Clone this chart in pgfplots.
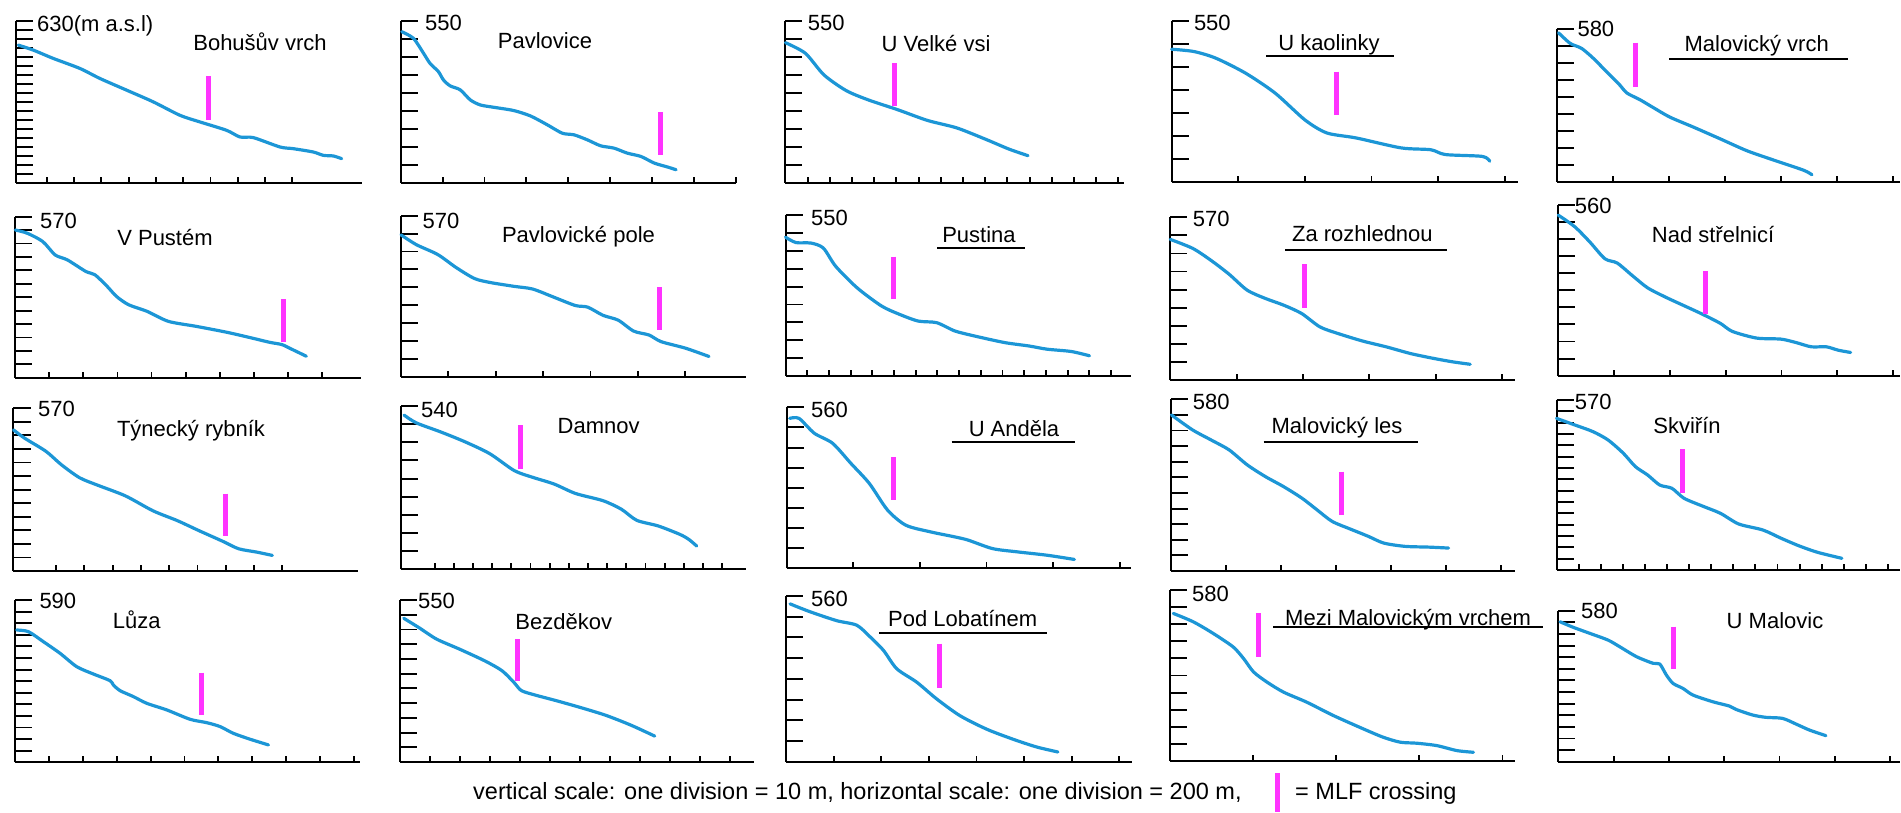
\documentclass[border=0pt]{standalone}
\usepackage{fontspec}
\setmainfont{Liberation Sans}
\usepackage{pgfplots}
\pgfplotsset{compat=1.18}
\definecolor{profc}{RGB}{28,150,214}
\definecolor{mlfc}{RGB}{255,51,255}
\newcommand{\tf}{\fontsize{22}{24}\selectfont}
\newcommand{\cf}{\fontsize{23.5}{25}\selectfont}
\pgfplotsset{
  panel/.style={scale only axis, anchor=south west, axis lines=left,
    axis line style={-, line width=2pt, black}, tick align=inside,
    xticklabel=\empty, yticklabel=\empty,
    xtick style={line width=1.9pt, black, /pgfplots/major tick length=6pt},
    ytick style={line width=1.9pt, black, /pgfplots/major tick length=17pt},
    clip=false, enlargelimits=false},
  pr/.style={color=profc, line width=3.2pt, line join=round, line cap=round, mark=none, smooth, tension=0.45},
  ml/.style={color=mlfc, line width=5pt, mark=none},
}
\begin{document}
\begin{tikzpicture}
\useasboundingbox (0pt,0pt) rectangle (1901pt,-812pt);
% ---------------- Row 1
\begin{axis}[panel, at={(16pt,-182.7pt)}, width=346pt, height=162pt,
  xmin=-25, xmax=2510, ymin=450, ymax=630, xtick={200,400,...,2000}, ytick={460,470,...,630}]
\addplot[pr] coordinates {(-8,602.9)(102,597.3)(248,588.1)(444,576.9)(590,565.8)(786,552.8)(981,539.8)(1176,524.9)(1323,517.5)(1518,508.2)(1616,500.8)(1714,500.1)(1909,489.7)(2007,487.8)(2153,484.1)(2227,480.4)(2300,479.7)(2361,476.7)};
\addplot[ml] coordinates {(1384,568.4)(1384,519.4)};
\end{axis}
\begin{axis}[panel, at={(400.7pt,-182.7pt)}, width=335.3pt, height=162pt,
  xmin=0, xmax=1600, ymin=460, ymax=550, xtick={200,400,...,1600}, ytick={470,480,...,550}]
\addplot[pr] coordinates {(5,543.9)(61,540.2)(109,531.9)(140,526.3)(180,521.7)(204,517.1)(236,513.8)(284,511.6)(332,506)(380,503.2)(444,501.9)(539,500.1)(619,497.1)(699,492.2)(771,487.5)(827,486.6)(891,483.8)(954,480.5)(1018,479.2)(1082,476.4)(1146,474.6)(1210,470.9)(1274,468.7)(1314,467.2)};
\addplot[ml] coordinates {(1239,499.2)(1239,475.2)};
\end{axis}
\begin{axis}[panel, at={(785.4pt,-182.7pt)}, width=338.1pt, height=162pt,
  xmin=0, xmax=3046, ymin=460, ymax=550, xtick={200,400,...,3000}, ytick={470,480,...,550}]
\addplot[pr] coordinates {(0,537.8)(180,531.9)(347,519.9)(547,511.2)(747,506)(1014,500.5)(1280,494.6)(1546,490.4)(1813,483.9)(2013,478.7)(2186,475)};
\addplot[ml] coordinates {(980,526.4)(980,502.7)};
\end{axis}
\begin{axis}[panel, at={(1171.6pt,-181.7pt)}, width=346.4pt, height=161pt,
  xmin=0, xmax=1040, ymin=480, ymax=550, xtick={200,400,...,1000}, ytick={490,500,...,550}]
\addplot[pr] coordinates {(0,537.6)(67,536.6)(133,533.7)(222,527.2)(311,518.5)(400,506.9)(466,501.2)(555,499)(689,494.7)(778,493.9)(822,491.8)(933,491)(955,488.9)};
\addplot[ml] coordinates {(496,527.9)(496,509.1)};
\end{axis}
\begin{axis}[panel, at={(1556.7pt,-181.7pt)}, width=343.3pt, height=152.4pt,
  xmin=0, xmax=1224, ymin=490, ymax=580, xtick={200,400,...,1200}, ytick={500,510,...,580}]
\addplot[pr] coordinates {(6,578)(48,571.7)(89,568.7)(131,562.8)(178,554.9)(226,546.9)(250,542.4)(297,538.4)(345,533.7)(404,528.1)(488,522.2)(583,515.3)(678,508.3)(773,502.8)(880,496.8)(910,494.1)};
\addplot[ml] coordinates {(282,572.1)(282,545.9)};
\end{axis}
% ---------------- Row 2
\begin{axis}[panel, at={(15.3pt,-377.7pt)}, width=345.7pt, height=161pt,
  xmin=0, xmax=2030, ymin=450, ymax=570, xtick={200,400,...,1800}, ytick={460,470,...,570}]
\addplot[pr] coordinates {(0,560.1)(72,557.6)(162,551.4)(234,541.5)(306,537.8)(414,529.2)(468,526.7)(540,518)(594,510.6)(665,504.4)(773,499.5)(899,492)(1061,488.3)(1241,483.9)(1385,479.7)(1493,476.4)(1565,474.7)(1619,471.5)(1709,466)};
\addplot[ml] coordinates {(1575,508.6)(1575,476.4)};
\end{axis}
\begin{axis}[panel, at={(401pt,-376.7pt)}, width=344.7pt, height=161pt,
  xmin=0, xmax=1455, ymin=480, ymax=570, xtick={200,400,...,1200}, ytick={490,500,...,570}]
\addplot[pr] coordinates {(0,559.3)(65,553.8)(155,548.3)(233,541)(310,534.9)(375,532.7)(478,530.5)(556,529)(646,524.4)(736,519.8)(788,518.9)(853,514.3)(917,511.6)(982,505.5)(1047,503.3)(1098,499.6)(1202,495.9)(1300,491.3)};
\addplot[ml] coordinates {(1093,529.9)(1093,506)};
\end{axis}
\begin{axis}[panel, at={(785.5pt,-376pt)}, width=345.2pt, height=161pt,
  xmin=0, xmax=3182, ymin=460, ymax=550, xtick={200,400,...,3000}, ytick={470,480,...,550}]
\addplot[pr] coordinates {(0,537.6)(96,534.6)(237,534.3)(349,531.5)(463,521.3)(660,509.3)(886,499.1)(1054,494.4)(1224,490.7)(1394,489.8)(1560,485.2)(1740,482.4)(2019,478.7)(2243,476.8)(2410,475)(2634,473.7)(2802,471.3)};
\addplot[ml] coordinates {(998,526.8)(998,503.2)};
\end{axis}
\begin{axis}[panel, at={(1170.2pt,-380pt)}, width=345.1pt, height=162.7pt,
  xmin=0, xmax=1040, ymin=480, ymax=570, xtick={200,400,...,1000}, ytick={490,500,...,570}]
\addplot[pr] coordinates {(0,557.8)(68,552.8)(122,546.3)(177,538.6)(232,529.7)(287,525.1)(342,521.4)(396,516.8)(451,509.4)(506,505.7)(579,501.6)(652,498.3)(725,494.6)(798,491.8)(853,490)(904,488.7)};
\addplot[ml] coordinates {(404,544.1)(404,520.1)};
\end{axis}
\begin{axis}[panel, at={(1558.3pt,-375.7pt)}, width=341.7pt, height=171pt,
  xmin=0, xmax=1225, ymin=460, ymax=560, xtick={200,400,...,1200}, ytick={470,480,...,560}]
\addplot[pr] coordinates {(0,553.9)(59,547.1)(113,538.2)(167,528.4)(211,525.9)(265,518.6)(320,511.4)(385,505.9)(450,501)(515,496.1)(581,490.6)(624,485.9)(711,482)(798,481.4)(852,479.4)(907,476.9)(961,476.9)(1004,474.9)(1048,473.6)};
\addplot[ml] coordinates {(526,521.2)(526,496.1)};
\end{axis}
% ---------------- Row 3
\begin{axis}[panel, at={(13.5pt,-571pt)}, width=344.6pt, height=162.7pt,
  xmin=-100, xmax=2335, ymin=450, ymax=570, xtick={200,400,...,1800}, ytick={460,470,...,570}]
\addplot[pr] coordinates {(-100,554.1)(-22,548)(129,538.3)(237,528.5)(367,518.8)(497,513.2)(691,505.4)(886,494.4)(1059,487.1)(1210,479.8)(1383,471.7)(1491,466.4)(1621,463.9)(1729,461.5)};
\addplot[ml] coordinates {(1396,507.1)(1396,475.6)};
\end{axis}
\begin{axis}[panel, at={(401pt,-569.3pt)}, width=344.7pt, height=163.3pt,
  xmin=-151, xmax=3446, ymin=450, ymax=540, xtick={200,400,...,3200}, ytick={460,470,...,540}]
\addplot[pr] coordinates {(-119,535)(9,530.7)(264,525.7)(520,520.2)(776,513.7)(1031,504.4)(1223,500.7)(1447,497)(1670,491.8)(1958,487.8)(2149,483.1)(2309,477)(2533,473.9)(2757,469.3)(2852,466.5)(2935,462.8)};
\addplot[ml] coordinates {(1095,529.4)(1095,505.4)};
\end{axis}
\begin{axis}[panel, at={(786.7pt,-568.3pt)}, width=344pt, height=161pt,
  xmin=0, xmax=1033, ymin=480, ymax=560, xtick={200,400,...,1000}, ytick={490,500,...,560}]
\addplot[pr] coordinates {(9,554.5)(37,554.5)(83,547.1)(138,542.1)(193,532.1)(248,522.2)(303,508.9)(358,501.4)(432,498.1)(505,495.6)(545,494)(618,489.8)(691,488.2)(782,486.5)(864,484.4)};
\addplot[ml] coordinates {(322,535.1)(322,513.9)};
\end{axis}
\begin{axis}[panel, at={(1171.4pt,-571pt)}, width=343.9pt, height=171.7pt,
  xmin=0, xmax=1252, ymin=470, ymax=580, xtick={200,400,...,1200}, ytick={480,490,...,580}]
\addplot[pr] coordinates {(0,570)(77,560.4)(144,554)(210,547.6)(276,538)(342,530.5)(408,524.1)(475,516.7)(530,509.2)(585,501.8)(651,496.9)(717,492.2)(773,487.9)(850,485.8)(938,485.3)(1009,484.7)};
\addplot[ml] coordinates {(618,533.7)(618,505.6)};
\end{axis}
\begin{axis}[panel, at={(1556.5pt,-570pt)}, width=343.5pt, height=170pt,
  xmin=0, xmax=3109, ymin=420, ymax=570, xtick={200,400,...,3000}, ytick={430,440,...,570}]
\addplot[pr] coordinates {(0,553.8)(165,548)(330,542.1)(467,534.7)(605,523)(714,511.2)(824,503.9)(934,495)(1044,492.1)(1154,483.3)(1319,476.5)(1484,470)(1649,460.6)(1868,455.3)(2033,448)(2198,441.2)(2363,435.6)(2583,430.3)};
\addplot[ml] coordinates {(1143,526.5)(1143,488.3)};
\end{axis}
% ---------------- Row 4
\begin{axis}[panel, at={(15pt,-762.3pt)}, width=345pt, height=162.3pt,
  xmin=0, xmax=2035, ymin=450, ymax=590, xtick={200,400,...,2000}, ytick={460,470,...,590}]
\addplot[pr] coordinates {(10,564.1)(79,562.7)(167,554.1)(266,544)(364,532.5)(462,526.2)(561,520.4)(580,516.7)(620,511.8)(698,506.7)(777,500.9)(895,495.2)(1033,487.1)(1131,484.2)(1210,480.8)(1288,475)(1387,469.9)(1495,465)};
\addplot[ml] coordinates {(1102,527.3)(1102,490.8)};
\end{axis}
\begin{axis}[panel, at={(400pt,-762pt)}, width=354pt, height=162pt,
  xmin=0, xmax=2360, ymin=440, ymax=550, xtick={200,400,...,2200}, ytick={450,460,...,550}]
\addplot[pr] coordinates {(25,537.6)(130,531)(243,523.5)(400,516.5)(567,508.6)(680,502)(760,494)(809,488.5)(900,485.5)(1051,481.4)(1220,476.5)(1375,471.6)(1540,465)(1698,457.6)};
\addplot[ml] coordinates {(785,523.5)(785,494.9)};
\end{axis}
\begin{axis}[panel, at={(786pt,-761.7pt)}, width=345.7pt, height=165.7pt,
  xmin=0, xmax=1452, ymin=480, ymax=560, xtick={200,400,...,1400}, ytick={490,500,...,560}]
\addplot[pr] coordinates {(17,556.2)(101,552.4)(213,548.1)(297,545.9)(353,540.3)(409,533.8)(465,524.9)(549,518.4)(633,510.3)(731,502.2)(843,495.7)(955,490.8)(1053,487.1)(1142,484.7)};
\addplot[ml] coordinates {(643,537)(643,515.6)};
\end{axis}
\begin{axis}[panel, at={(1170pt,-761pt)}, width=345pt, height=171pt,
  xmin=0, xmax=830, ymin=480, ymax=580, xtick={200,400,...,800}, ytick={490,500,...,580}]
\addplot[pr] coordinates {(8,566.3)(56,561.4)(104,554.6)(152,546.7)(177,539.9)(201,532.1)(233,526.2)(273,520.3)(329,514.4)(393,506.6)(465,498.8)(513,493.9)(554,491)(594,490.4)(642,489)(690,486.1)(730,485.1)};
\addplot[ml] coordinates {(213,566.3)(213,540.9)};
\end{axis}
\begin{axis}[panel, at={(1558.3pt,-761.7pt)}, width=341.7pt, height=151pt,
  xmin=0, xmax=1236, ymin=450, ymax=580, xtick={200,400,...,1200}, ytick={460,470,...,580}]
\addplot[pr] coordinates {(6,570.5)(54,565.7)(114,560.5)(180,554.7)(222,549)(283,540.4)(343,534.7)(367,534.1)(391,524.6)(415,517.4)(451,513.1)(487,507.4)(559,501.6)(619,497.9)(643,495)(703,490.2)(751,488.2)(811,487.3)(860,482.4)(908,477.3)(968,472.4)};
\addplot[ml] coordinates {(417,566.2)(417,529.5)};
\end{axis}
% ---------------- labels
\begin{scope}[every node/.style={inner sep=0pt, font=\tf}]
\node[anchor=base west] at (37pt,-31.7pt) {630(m a.s.l)};
\node[anchor=base] at (260pt,-50pt) {Bohušův vrch};
\node[anchor=base west] at (425pt,-30pt) {550};
\node[anchor=base] at (545pt,-48.3pt) {Pavlovice};
\node[anchor=base west] at (807.6pt,-30pt) {550};
\node[anchor=base] at (936pt,-51.7pt) {U Velké vsi};
\node[anchor=base west] at (1193.8pt,-30pt) {550};
\node[anchor=base] at (1329pt,-50.7pt) {U kaolinky};
\node[anchor=base west] at (1577.3pt,-36pt) {580};
\node[anchor=base] at (1756.7pt,-51.7pt) {Malovický vrch};
\node[anchor=base west] at (40pt,-228.3pt) {570};
\node[anchor=base] at (165pt,-245pt) {V Pustém};
\node[anchor=base west] at (422.4pt,-228.3pt) {570};
\node[anchor=base] at (578.5pt,-242.7pt) {Pavlovické pole};
\node[anchor=base west] at (811pt,-225pt) {550};
\node[anchor=base] at (979pt,-242.7pt) {Pustina};
\node[anchor=base west] at (1192.6pt,-226.7pt) {570};
\node[anchor=base] at (1362.4pt,-241.7pt) {Za rozhlednou};
\node[anchor=base west] at (1574.7pt,-213.3pt) {560};
\node[anchor=base] at (1713pt,-242.7pt) {Nad střelnicí};
\node[anchor=base west] at (38pt,-416.7pt) {570};
\node[anchor=base] at (191pt,-436pt) {Týnecký rybník};
\node[anchor=base west] at (421pt,-417.3pt) {540};
\node[anchor=base] at (598.7pt,-433.3pt) {Damnov};
\node[anchor=base west] at (811pt,-417.3pt) {560};
\node[anchor=base] at (1014pt,-436.7pt) {U Anděla};
\node[anchor=base west] at (1192.6pt,-409pt) {580};
\node[anchor=base] at (1337pt,-433.3pt) {Malovický les};
\node[anchor=base west] at (1574.7pt,-409pt) {570};
\node[anchor=base] at (1687pt,-433.3pt) {Skviřín};
\node[anchor=base west] at (39.3pt,-608.3pt) {590};
\node[anchor=base] at (136.7pt,-628.3pt) {Lůza};
\node[anchor=base west] at (418pt,-608.3pt) {550};
\node[anchor=base] at (563.8pt,-629pt) {Bezděkov};
\node[anchor=base west] at (811pt,-606pt) {560};
\node[anchor=base] at (962.7pt,-626pt) {Pod Lobatínem};
\node[anchor=base west] at (1192pt,-601.7pt) {580};
\node[anchor=base west] at (1285pt,-625pt) {Mezi Malovickým vrchem};
\node[anchor=base west] at (1581pt,-618.3pt) {580};
\node[anchor=base] at (1775pt,-628.3pt) {U Malovic};
\node[anchor=base west, font=\cf] at (473pt,-799pt) {vertical scale: one division = 10 m, horizontal scale: one division = 200 m,};
\node[anchor=base west, font=\cf] at (1295pt,-799pt) {= MLF crossing};
\end{scope}
% underlines
\begin{scope}[line width=1.8pt]
\draw (1266.3pt,-56pt) -- (1393.5pt,-56pt);
\draw (1669pt,-59.3pt) -- (1847.7pt,-59.3pt);
\draw (937pt,-248.3pt) -- (1024.5pt,-248.3pt);
\draw (1285.4pt,-250pt) -- (1447.3pt,-250pt);
\draw (951.7pt,-441.7pt) -- (1075pt,-441.7pt);
\draw (1263.6pt,-441.7pt) -- (1418.2pt,-441.7pt);
\draw (879pt,-633.3pt) -- (1047.3pt,-633.3pt);
\draw (1273.3pt,-627.3pt) -- (1542.7pt,-627.3pt);
\end{scope}
\draw[mlfc, line width=5pt] (1277.7pt,-773pt) -- (1277.7pt,-812pt);
\end{tikzpicture}
\end{document}
